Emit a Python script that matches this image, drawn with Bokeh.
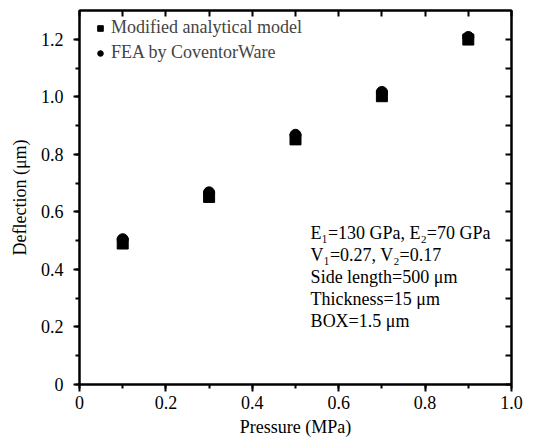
from bokeh.plotting import figure
from bokeh.models import (ColumnDataSource, LinearAxis, FixedTicker, Label,
                          Legend, LegendItem, PrintfTickFormatter, Range1d, CustomJSTickFormatter)
from bokeh.embed import file_html
from bokeh.resources import INLINE

pressure = [0.1, 0.3, 0.5, 0.7, 0.9]
model_defl = [0.49, 0.652, 0.852, 1.002, 1.199]
fea_defl = [0.505, 0.668, 0.868, 1.017, 1.208]

x_ticks = [0, 0.2, 0.4, 0.6, 0.8, 1.0]
x_tick_labels = ["0", "0.2", "0.4", "0.6", "0.8", "1.0"]
y_ticks = [0, 0.2, 0.4, 0.6, 0.8, 1.0, 1.2]
y_tick_labels = ["0", "0.2", "0.4", "0.6", "0.8", "1.0", "1.2"]
x_fine_ticks = [0.0, 0.1, 0.2, 0.3, 0.4, 0.5, 0.6, 0.7, 0.8, 0.9, 1.0]
y_fine_ticks = [0.0, 0.1, 0.2, 0.3, 0.4, 0.5, 0.6, 0.7, 0.8, 0.9, 1.0, 1.1, 1.2]

legend_labels = ["Modified analytical model", "FEA by CoventorWare"]
note_lines = ["E\u2081=130 GPa, E\u2082=70 GPa", "V\u2081=0.27, V\u2082=0.17",
              "Side length=500 \u03bcm", "Thickness=15 \u03bcm", "BOX=1.5 \u03bcm"]

FONT = "Liberation Serif"
FS = "18px"

src = ColumnDataSource(dict(p=pressure, m=model_defl, f=fea_defl))

p = figure(width=533, height=439, output_backend="svg", toolbar_location=None,
           x_range=Range1d(0, 1.0), y_range=Range1d(0, 1.3),
           min_border_left=79, min_border_right=22, min_border_top=10, min_border_bottom=54)
p.grid.visible = False
p.outline_line_color = "black"
p.outline_line_width = 2
p.background_fill_color = None
p.border_fill_color = "white"

xa = p.xaxis[0]
ya = p.yaxis[0]
xa.ticker = FixedTicker(ticks=x_ticks, minor_ticks=x_fine_ticks)
ya.ticker = FixedTicker(ticks=y_ticks, minor_ticks=y_fine_ticks)

for ax, ticks, labels, lab, tout, so, lso in [
        (xa, x_ticks, x_tick_labels, "Pressure (MPa)", 7, 4, 5),
        (ya, y_ticks, y_tick_labels, "Deflection (\u03bcm)", 6, 10, 8)]:
    ax.axis_line_width = 2
    ax.axis_line_color = "black"
    ax.major_tick_in = 0
    ax.major_tick_out = tout
    ax.minor_tick_in = 0
    ax.minor_tick_out = 4
    ax.major_tick_line_width = 2
    ax.minor_tick_line_width = 2
    ax.major_tick_line_color = "black"
    ax.minor_tick_line_color = "black"
    ax.formatter = PrintfTickFormatter(format="%.1f")
    ax.major_label_overrides = {t: l for t, l in zip(ticks, labels)}
    ax.major_label_text_font = FONT
    ax.major_label_text_font_size = FS
    ax.major_label_text_color = "black"
    ax.major_label_standoff = so
    ax.axis_label = lab
    ax.axis_label_text_font = FONT
    ax.axis_label_text_font_size = FS
    ax.axis_label_text_font_style = "normal"
    ax.axis_label_text_color = "black"
    ax.axis_label_standoff = lso


def plain_axis(side, fine_ticks):
    ax = LinearAxis(ticker=FixedTicker(ticks=fine_ticks, minor_ticks=[]))
    ax.formatter = CustomJSTickFormatter(code="return ''")
    ax.axis_line_width = 2
    ax.axis_line_color = "black"
    ax.major_tick_in = 6
    ax.major_tick_out = 0
    ax.major_tick_line_width = 2
    ax.major_tick_line_color = "black"
    ax.minor_tick_line_color = None
    ax.major_label_standoff = 0
    p.add_layout(ax, side)


plain_axis("above", x_fine_ticks)
plain_axis("right", y_fine_ticks)

r1 = p.scatter("p", "m", source=src, marker="square", size=11, color="black")
r2 = p.scatter("p", "f", source=src, marker="circle", size=11, color="black")

legend = Legend(items=[LegendItem(label=legend_labels[0], renderers=[r1]),
                       LegendItem(label=legend_labels[1], renderers=[r2])],
                location=(14, 321), margin=0, padding=0, spacing=4,
                glyph_width=14, glyph_height=20, label_height=20, label_standoff=4,
                label_text_font=FONT, label_text_font_size=FS,
                border_line_color=None, background_fill_alpha=0)
p.add_layout(legend)

for i, line in enumerate(note_lines):
    p.add_layout(Label(x=0.535, y=0.527 - i * 0.0765, text=line, text_font=FONT,
                       text_font_size=FS, text_baseline="middle", text_color="black"))

open("out.html", "w").write(file_html(p, INLINE))
